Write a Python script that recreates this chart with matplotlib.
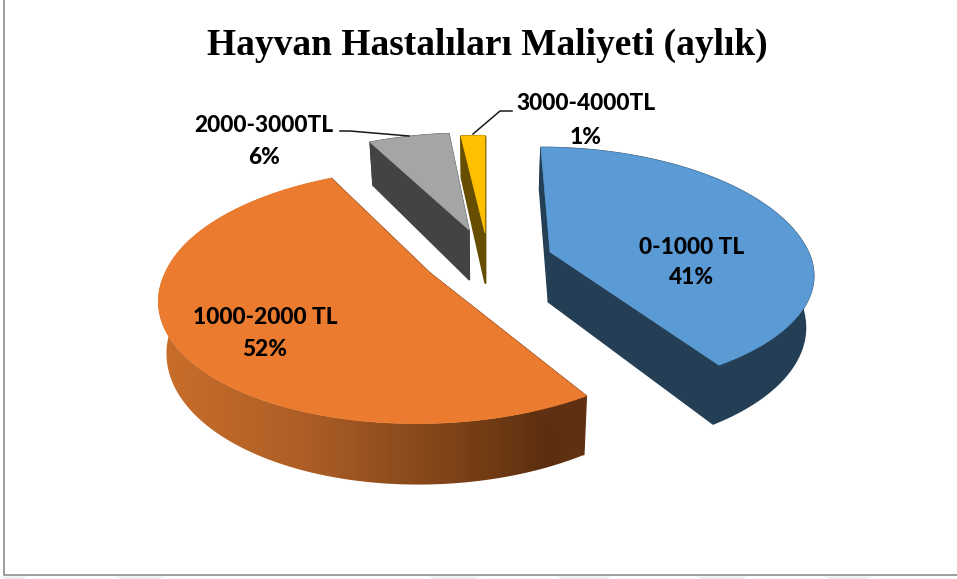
import numpy as np
import matplotlib
matplotlib.use('Agg')
import matplotlib.pyplot as plt
from matplotlib.patches import Polygon

# data
categories = ['0-1000 TL', '1000-2000 TL', '2000-3000TL', '3000-4000TL']
values = [41.0, 51.51, 6.0, 1.49]
title = 'Hayvan Hastalıları Maliyeti (aylık)'

# colours
top_colors = ['#5B9BD5', '#EA7B2F', '#A5A5A5', '#FFC000']
wall_colors = ['#243F55', '#5F3011', '#434343', '#664D00']
rim_x = [160, 300, 450, 550, 587]
rim_r = [201, 174, 127, 91, 100]
rim_g = [110, 95, 67, 46, 52]
rim_b = [43, 38, 24, 15, 19]

# layout in pixels, y going down
apex_x = [550, 430, 469, 485]
apex_y = [252, 273, 230, 233]
lean_up = [0.087, -0.05, 0, 0]
lean_down = [0.05, -0.09, 0, 0]
radius_x = [0.975, 1, 0.955, 1.15]
radius_y = [1, 1, 0.925, 0.93]
near_y = [0.92, 1, 1, 1]
RX, RY, K, DEPTH = 265, 123.5, 0.18, 50
BOTTOM_SCALE, MID_X = 0.975, 485


def top_xy(theta, i):
    u, v = np.sin(theta), -np.cos(theta)
    s = 1 / (1 - K * v)
    dy = RY * radius_y[i] * v * s
    dy = np.where(dy > 0, dy * near_y[i], dy)
    dx = RX * radius_x[i] * u * s + lean_up[i] * np.minimum(dy, 0) + lean_down[i] * np.maximum(dy, 0)
    return apex_x[i] + dx, apex_y[i] + dy


def drop(x, y, v):
    # the same point on the underside of the slice
    s = 1 / (1 - K * v)
    return MID_X + (x - MID_X) * BOTTOM_SCALE, y + DEPTH * s


fig = plt.figure(figsize=(9.57, 5.79), dpi=100)
ax = fig.add_axes([0, 0, 1, 1])

edges = np.cumsum([0] + values) / sum(values) * 2 * np.pi

for i in [3, 2, 0, 1]:
    th = np.linspace(edges[i], edges[i + 1], 160)
    x, y = top_xy(th, i)
    xb, yb = drop(x, y, -np.cos(th))
    ax_, ay_ = apex_x[i], apex_y[i]
    axb, ayb = drop(ax_, ay_, 0)

    # outer rim
    rim = np.c_[np.r_[x, xb[::-1]], np.r_[y, yb[::-1]]]
    if i == 1:
        xs = np.linspace(150, 600, 450)
        grad = np.dstack([np.interp(xs, rim_x, rim_r), np.interp(xs, rim_x, rim_g), np.interp(xs, rim_x, rim_b)]) / 255
        im = ax.imshow(grad, extent=[150, 600, 520, 160], aspect='auto', zorder=1)
        patch = Polygon(rim, closed=True, transform=ax.transData, fc='none', ec='none')
        ax.add_patch(patch)
        im.set_clip_path(patch)
    else:
        ax.fill(rim[:, 0], rim[:, 1], color=wall_colors[i], lw=1)

    # inner walls
    for k in [-1, 0]:
        ax.fill([ax_, x[k], xb[k], axb], [ay_, y[k], yb[k], ayb], color=wall_colors[i], lw=1)

    # top face
    ax.fill(np.r_[ax_, x], np.r_[ay_, y], color=top_colors[i], lw=0.5)

ax.set_xlim(0, 957)
ax.set_ylim(579, 0)
ax.axis('off')

# leader lines
ax.plot([340, 350, 409], [131, 131, 136], color='#1a1a1a', lw=1.1)
ax.plot([512, 500, 473], [111, 111, 134], color='#1a1a1a', lw=1.1)

# labels
pct = [f'{round(v)}%' for v in values]
label_x = [692, 265, 264, 586]
label_y = [247, 317, 125, 104]
gap = [31, 32, 33, 33]
for i in range(4):
    ax.text(label_x[i], label_y[i], categories[i], family='Lato', weight='black', fontsize=16.3,
            ha='center', va='center', color='black')
    ax.text(label_x[i], label_y[i] + gap[i], pct[i], family='Lato', weight='black', fontsize=16.3,
            ha='center', va='center', color='black')

ax.text(487.5, 45, title, family='Liberation Serif', weight='bold', fontsize=26.9,
        ha='center', va='center', color='black')

# chart frame and the faint marks under it
ax.plot([4, 4, 957], [0, 575, 575], color='#8c8c8c', lw=1.2)
for xs in [(0, 28), (115, 165), (428, 482), (556, 612), (696, 748), (824, 873)]:
    ax.fill([xs[0], xs[1], xs[1] - 6, xs[0] + 6], [576.5, 576.5, 579, 579], color='#eeeeee', lw=0)

fig.savefig('out.png', dpi=100)
